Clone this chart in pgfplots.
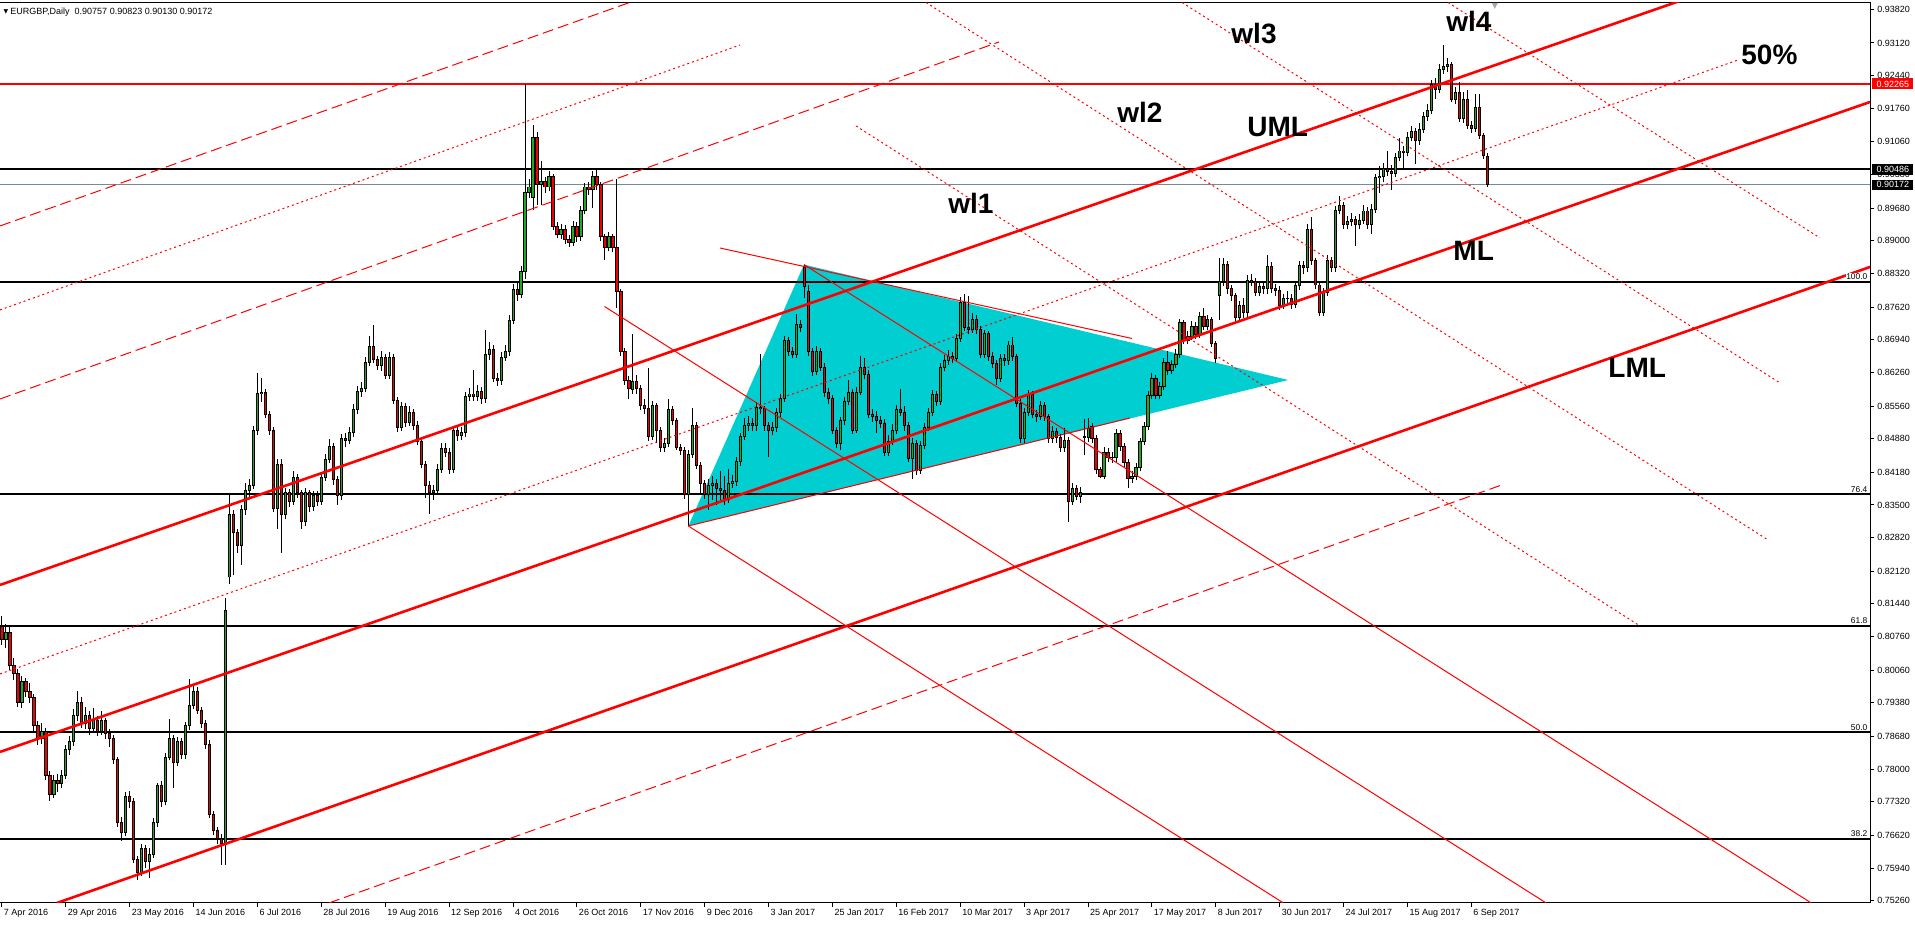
\documentclass[border=0pt]{standalone}
\usepackage{fontspec}
\setmainfont{Liberation Sans}
\newfontfamily\dejavu{DejaVu Sans}
\usepackage{pgfplots}
\usepackage{pgfplotstable}
\pgfplotsset{compat=1.18}

\definecolor{bull}{RGB}{30,170,30}
\definecolor{bear}{RGB}{240,0,0}
\definecolor{tri}{RGB}{0,206,209}
\definecolor{bidline}{RGB}{119,136,153}

\newcommand\tickfont{\fontsize{4.5}{5}\selectfont}
\newcommand\fibfont{\fontsize{4.2}{5}\selectfont}
\newcommand\bigfont{\fontsize{14}{16}\selectfont\bfseries}

\tikzset{
  thickred/.style={red, line width=1.3pt},
  thinred/.style={red, line width=0.5pt},
  dashred/.style={red, line width=0.5pt, dash pattern=on 5.5pt off 2.5pt},
  dotred/.style={red, line width=0.5pt, dash pattern=on 1pt off 1.5pt},
  level/.style={black, line width=1pt},
}
\pgfplotsset{candle/.style={draw=none, mark=none, forget plot,
  error bars/.cd, y dir=plus, y explicit, error mark=none}}

% EURGBP daily, bar index from 7 Apr 2016
\pgfplotstableread{
x o h l c
0 0.8097 0.8119 0.8058 0.8070
1 0.8070 0.8102 0.8052 0.8085
2 0.8085 0.8096 0.8006 0.8015
3 0.8015 0.8032 0.7986 0.7999
4 0.7999 0.8008 0.7930 0.7939
5 0.7939 0.7994 0.7928 0.7982
6 0.7982 0.7990 0.7950 0.7961
7 0.7961 0.7979 0.7938 0.7950
8 0.7950 0.7957 0.7880 0.7890
9 0.7890 0.7901 0.7850 0.7863
10 0.7863 0.7895 0.7852 0.7879
11 0.7879 0.7886 0.7778 0.7786
12 0.7786 0.7795 0.7734 0.7748
13 0.7748 0.7788 0.7740 0.7776
14 0.7776 0.7790 0.7752 0.7770
15 0.7770 0.7799 0.7760 0.7786
16 0.7786 0.7850 0.7779 0.7841
17 0.7841 0.7869 0.7830 0.7857
18 0.7857 0.7925 0.7848 0.7912
19 0.7912 0.7963 0.7901 0.7939
20 0.7939 0.7950 0.7885 0.7895
21 0.7895 0.7930 0.7884 0.7912
22 0.7912 0.7921 0.7870 0.7884
23 0.7884 0.7928 0.7876 0.7901
24 0.7901 0.7910 0.7868 0.7879
25 0.7879 0.7922 0.7871 0.7901
26 0.7901 0.7906 0.7862 0.7874
27 0.7874 0.7884 0.7845 0.7863
28 0.7863 0.7870 0.7810 0.7819
29 0.7819 0.7826 0.7680 0.7688
30 0.7688 0.7700 0.7650 0.7667
31 0.7667 0.7752 0.7660 0.7743
32 0.7743 0.7755 0.7718 0.7732
33 0.7732 0.7740 0.7605 0.7612
34 0.7612 0.7620 0.7569 0.7585
35 0.7585 0.7645 0.7578 0.7634
36 0.7634 0.7642 0.7595 0.7607
37 0.7607 0.7636 0.7574 0.7623
38 0.7623 0.7698 0.7615 0.7688
39 0.7688 0.7772 0.7680 0.7765
40 0.7765 0.7775 0.7722 0.7732
41 0.7732 0.7834 0.7725 0.7825
42 0.7825 0.7905 0.7818 0.7863
43 0.7863 0.7870 0.7760 0.7814
44 0.7814 0.7866 0.7806 0.7857
45 0.7857 0.7865 0.7820 0.7830
46 0.7830 0.7899 0.7822 0.7890
47 0.7890 0.7988 0.7882 0.7933
48 0.7933 0.7975 0.7925 0.7961
49 0.7961 0.7970 0.7915 0.7923
50 0.7923 0.7930 0.7885 0.7895
51 0.7895 0.7902 0.7842 0.7852
52 0.7852 0.7860 0.7698 0.7705
53 0.7705 0.7712 0.7662 0.7672
54 0.7672 0.7680 0.7645 0.7656
55 0.7656 0.7665 0.7600 0.7645
56 0.7645 0.8157 0.7600 0.8130
57 0.8200 0.8375 0.8185 0.8330
58 0.8330 0.8340 0.8205 0.8292
59 0.8292 0.8300 0.8250 0.8265
60 0.8265 0.8350 0.8225 0.8341
61 0.8341 0.8395 0.8330 0.8380
62 0.8380 0.8405 0.8366 0.8391
63 0.8391 0.8514 0.8383 0.8505
64 0.8505 0.8625 0.8496 0.8582
65 0.8582 0.8614 0.8565 0.8585
66 0.8585 0.8592 0.8530 0.8538
67 0.8538 0.8545 0.8496 0.8505
68 0.8505 0.8512 0.8335 0.8342
69 0.8342 0.8446 0.8300 0.8435
70 0.8435 0.8445 0.8250 0.8331
71 0.8331 0.8386 0.8320 0.8375
72 0.8375 0.8384 0.8345 0.8358
73 0.8358 0.8420 0.8350 0.8407
74 0.8407 0.8415 0.8365 0.8375
75 0.8375 0.8382 0.8300 0.8315
76 0.8315 0.8386 0.8306 0.8375
77 0.8375 0.8382 0.8336 0.8347
78 0.8347 0.8380 0.8338 0.8369
79 0.8369 0.8378 0.8348 0.8358
80 0.8358 0.8416 0.8350 0.8407
81 0.8407 0.8457 0.8400 0.8445
82 0.8445 0.8488 0.8438 0.8472
83 0.8472 0.8480 0.8392 0.8402
84 0.8402 0.8410 0.8350 0.8369
85 0.8369 0.8498 0.8360 0.8489
86 0.8489 0.8499 0.8470 0.8484
87 0.8484 0.8512 0.8476 0.8500
88 0.8500 0.8560 0.8492 0.8549
89 0.8549 0.8598 0.8540 0.8587
90 0.8587 0.8606 0.8575 0.8592
91 0.8592 0.8658 0.8585 0.8647
92 0.8647 0.8701 0.8640 0.8680
93 0.8680 0.8725 0.8645 0.8652
94 0.8652 0.8660 0.8630 0.8641
95 0.8641 0.8670 0.8628 0.8658
96 0.8658 0.8665 0.8612 0.8620
97 0.8620 0.8668 0.8612 0.8658
98 0.8658 0.8665 0.8560 0.8568
99 0.8568 0.8575 0.8502 0.8511
100 0.8511 0.8565 0.8503 0.8554
101 0.8554 0.8562 0.8512 0.8522
102 0.8522 0.8555 0.8514 0.8543
103 0.8543 0.8550 0.8506 0.8516
104 0.8516 0.8524 0.8474 0.8483
105 0.8483 0.8490 0.8426 0.8435
106 0.8435 0.8442 0.8364 0.8391
107 0.8391 0.8400 0.8331 0.8375
108 0.8375 0.8392 0.8360 0.8380
109 0.8380 0.8435 0.8372 0.8424
110 0.8424 0.8478 0.8416 0.8467
111 0.8467 0.8480 0.8450 0.8460
112 0.8460 0.8468 0.8415 0.8424
113 0.8424 0.8515 0.8416 0.8505
114 0.8505 0.8514 0.8484 0.8494
115 0.8494 0.8512 0.8485 0.8500
116 0.8500 0.8586 0.8492 0.8576
117 0.8576 0.8594 0.8566 0.8581
118 0.8581 0.8630 0.8566 0.8576
119 0.8576 0.8600 0.8566 0.8587
120 0.8587 0.8595 0.8560 0.8571
121 0.8571 0.8714 0.8563 0.8663
122 0.8663 0.8690 0.8652 0.8674
123 0.8674 0.8682 0.8605 0.8614
124 0.8614 0.8625 0.8598 0.8609
125 0.8609 0.8668 0.8600 0.8658
126 0.8658 0.8682 0.8650 0.8669
127 0.8669 0.8745 0.8660 0.8734
128 0.8734 0.8810 0.8726 0.8799
129 0.8799 0.8812 0.8775 0.8788
130 0.8788 0.8848 0.8780 0.8837
131 0.8837 0.9227 0.8820 0.9001
132 0.9001 0.9028 0.8990 0.9012
133 0.8990 0.9142 0.8965 0.9115
134 0.9115 0.9126 0.8974 0.9017
135 0.9017 0.9066 0.8974 0.9023
136 0.9023 0.9032 0.9000 0.9012
137 0.9012 0.9046 0.9003 0.9034
138 0.9034 0.9040 0.8922 0.8930
139 0.8930 0.8940 0.8905 0.8914
140 0.8914 0.8935 0.8904 0.8924
141 0.8924 0.8932 0.8894 0.8903
142 0.8903 0.8912 0.8887 0.8897
143 0.8897 0.8941 0.8890 0.8930
144 0.8930 0.8940 0.8898 0.8908
145 0.8908 0.8972 0.8900 0.8963
146 0.8963 0.9020 0.8955 0.9012
147 0.9012 0.9022 0.8995 0.9006
148 0.9006 0.9045 0.8968 0.9034
149 0.9034 0.9050 0.9006 0.9017
150 0.9017 0.9023 0.8900 0.8908
151 0.8908 0.8915 0.8859 0.8886
152 0.8886 0.8918 0.8878 0.8908
153 0.8908 0.8915 0.8876 0.8886
154 0.8886 0.9028 0.8761 0.8794
155 0.8794 0.8800 0.8660 0.8669
156 0.8669 0.8676 0.8600 0.8609
157 0.8609 0.8618 0.8570 0.8593
158 0.8590 0.8706 0.8580 0.8608
159 0.8608 0.8620 0.8582 0.8592
160 0.8592 0.8600 0.8548 0.8557
161 0.8557 0.8571 0.8540 0.8550
162 0.8550 0.8636 0.8484 0.8492
163 0.8492 0.8566 0.8485 0.8557
164 0.8557 0.8563 0.8478 0.8506
165 0.8506 0.8512 0.8460 0.8469
166 0.8469 0.8490 0.8460 0.8478
167 0.8478 0.8571 0.8470 0.8548
168 0.8548 0.8556 0.8516 0.8525
169 0.8525 0.8532 0.8464 0.8469
170 0.8469 0.8476 0.8455 0.8464
171 0.8464 0.8470 0.8362 0.8371
172 0.8371 0.8465 0.8306 0.8455
173 0.8455 0.8552 0.8448 0.8515
174 0.8515 0.8522 0.8424 0.8432
175 0.8432 0.8440 0.8371 0.8395
176 0.8395 0.8402 0.8362 0.8371
177 0.8371 0.8405 0.8340 0.8390
178 0.8390 0.8410 0.8360 0.8395
179 0.8395 0.8405 0.8350 0.8385
180 0.8385 0.8420 0.8356 0.8381
181 0.8381 0.8410 0.8350 0.8362
182 0.8362 0.8425 0.8355 0.8395
183 0.8395 0.8412 0.8385 0.8399
184 0.8399 0.8450 0.8390 0.8441
185 0.8441 0.8500 0.8432 0.8492
186 0.8492 0.8530 0.8485 0.8515
187 0.8515 0.8535 0.8505 0.8520
188 0.8520 0.8530 0.8503 0.8515
189 0.8515 0.8565 0.8505 0.8553
190 0.8553 0.8664 0.8540 0.8550
191 0.8550 0.8556 0.8505 0.8515
192 0.8515 0.8522 0.8450 0.8506
193 0.8506 0.8522 0.8495 0.8511
194 0.8511 0.8552 0.8502 0.8543
195 0.8543 0.8580 0.8533 0.8571
196 0.8571 0.8702 0.8565 0.8692
197 0.8692 0.8700 0.8660 0.8669
198 0.8669 0.8678 0.8655 0.8664
199 0.8664 0.8748 0.8656 0.8725
200 0.8725 0.8735 0.8710 0.8720
201 0.8845 0.8850 0.8780 0.8804
202 0.8794 0.8808 0.8660 0.8669
203 0.8669 0.8676 0.8618 0.8627
204 0.8627 0.8680 0.8620 0.8669
205 0.8669 0.8676 0.8628 0.8636
206 0.8636 0.8645 0.8575 0.8585
207 0.8585 0.8594 0.8560 0.8571
208 0.8571 0.8578 0.8498 0.8506
209 0.8506 0.8512 0.8468 0.8478
210 0.8478 0.8534 0.8464 0.8525
211 0.8525 0.8575 0.8516 0.8566
212 0.8566 0.8610 0.8558 0.8585
213 0.8585 0.8592 0.8498 0.8506
214 0.8506 0.8595 0.8500 0.8585
215 0.8585 0.8660 0.8578 0.8636
216 0.8636 0.8655 0.8612 0.8622
217 0.8622 0.8630 0.8530 0.8539
218 0.8539 0.8550 0.8522 0.8534
219 0.8534 0.8545 0.8500 0.8525
220 0.8525 0.8535 0.8510 0.8520
221 0.8520 0.8528 0.8452 0.8460
222 0.8460 0.8495 0.8452 0.8483
223 0.8483 0.8518 0.8475 0.8506
224 0.8506 0.8558 0.8498 0.8548
225 0.8548 0.8592 0.8535 0.8543
226 0.8543 0.8555 0.8505 0.8515
227 0.8515 0.8522 0.8440 0.8446
228 0.8446 0.8490 0.8404 0.8478
229 0.8478 0.8485 0.8412 0.8422
230 0.8422 0.8484 0.8415 0.8474
231 0.8474 0.8520 0.8466 0.8511
232 0.8511 0.8552 0.8504 0.8543
233 0.8543 0.8590 0.8535 0.8580
234 0.8580 0.8588 0.8556 0.8566
235 0.8566 0.8645 0.8558 0.8636
236 0.8636 0.8662 0.8628 0.8650
237 0.8650 0.8672 0.8642 0.8659
238 0.8659 0.8668 0.8645 0.8655
239 0.8655 0.8706 0.8648 0.8697
240 0.8697 0.8782 0.8690 0.8771
241 0.8771 0.8790 0.8712 0.8720
242 0.8720 0.8785 0.8705 0.8716
243 0.8716 0.8750 0.8708 0.8737
244 0.8737 0.8745 0.8706 0.8715
245 0.8715 0.8722 0.8655 0.8664
246 0.8664 0.8715 0.8656 0.8706
247 0.8706 0.8712 0.8650 0.8659
248 0.8659 0.8668 0.8635 0.8645
249 0.8645 0.8652 0.8600 0.8613
250 0.8613 0.8664 0.8605 0.8655
251 0.8655 0.8665 0.8640 0.8650
252 0.8650 0.8692 0.8642 0.8683
253 0.8683 0.8700 0.8650 0.8659
254 0.8659 0.8665 0.8553 0.8562
255 0.8562 0.8570 0.8478 0.8488
256 0.8488 0.8552 0.8480 0.8543
257 0.8543 0.8590 0.8535 0.8580
258 0.8580 0.8588 0.8530 0.8539
259 0.8539 0.8548 0.8522 0.8534
260 0.8534 0.8567 0.8526 0.8557
261 0.8557 0.8565 0.8525 0.8534
262 0.8534 0.8540 0.8480 0.8489
263 0.8489 0.8515 0.8480 0.8503
264 0.8503 0.8510 0.8478 0.8490
265 0.8490 0.8497 0.8460 0.8469
266 0.8469 0.8510 0.8460 0.8485
267 0.8485 0.8492 0.8315 0.8357
268 0.8357 0.8396 0.8350 0.8385
269 0.8385 0.8392 0.8360 0.8367
270 0.8367 0.8388 0.8355 0.8375
271 0.8492 0.8528 0.8453 0.8490
272 0.8490 0.8532 0.8482 0.8510
273 0.8514 0.8520 0.8480 0.8489
274 0.8489 0.8495 0.8415 0.8424
275 0.8424 0.8430 0.8406 0.8410
276 0.8410 0.8470 0.8404 0.8460
277 0.8460 0.8468 0.8440 0.8449
278 0.8449 0.8460 0.8438 0.8448
279 0.8448 0.8508 0.8440 0.8499
280 0.8499 0.8506 0.8462 0.8471
281 0.8471 0.8480 0.8430 0.8439
282 0.8439 0.8445 0.8385 0.8406
283 0.8406 0.8420 0.8396 0.8410
284 0.8410 0.8438 0.8402 0.8428
285 0.8428 0.8490 0.8420 0.8482
286 0.8482 0.8522 0.8475 0.8514
287 0.8514 0.8587 0.8506 0.8578
288 0.8578 0.8624 0.8570 0.8614
289 0.8614 0.8620 0.8570 0.8578
290 0.8578 0.8606 0.8570 0.8596
291 0.8596 0.8655 0.8590 0.8646
292 0.8646 0.8671 0.8620 0.8629
293 0.8629 0.8652 0.8622 0.8643
294 0.8643 0.8674 0.8636 0.8664
295 0.8664 0.8738 0.8656 0.8729
296 0.8729 0.8736 0.8685 0.8693
297 0.8693 0.8712 0.8685 0.8700
298 0.8700 0.8734 0.8693 0.8722
299 0.8722 0.8730 0.8695 0.8704
300 0.8704 0.8752 0.8697 0.8743
301 0.8743 0.8760 0.8714 0.8722
302 0.8722 0.8746 0.8715 0.8736
303 0.8736 0.8742 0.8678 0.8686
304 0.8686 0.8692 0.8645 0.8654
305 0.8786 0.8865 0.8736 0.8815
306 0.8815 0.8865 0.8806 0.8851
307 0.8851 0.8858 0.8790 0.8800
308 0.8800 0.8808 0.8775 0.8786
309 0.8786 0.8792 0.8730 0.8740
310 0.8740 0.8775 0.8730 0.8765
311 0.8765 0.8780 0.8740 0.8750
312 0.8750 0.8828 0.8742 0.8818
313 0.8818 0.8830 0.8805 0.8815
314 0.8815 0.8822 0.8785 0.8793
315 0.8793 0.8815 0.8785 0.8804
316 0.8804 0.8812 0.8790 0.8800
317 0.8800 0.8870 0.8790 0.8847
318 0.8847 0.8855 0.8792 0.8800
319 0.8800 0.8810 0.8785 0.8797
320 0.8797 0.8805 0.8756 0.8765
321 0.8765 0.8790 0.8758 0.8779
322 0.8779 0.8795 0.8768 0.8780
323 0.8780 0.8790 0.8758 0.8768
324 0.8768 0.8815 0.8760 0.8806
325 0.8806 0.8858 0.8798 0.8849
326 0.8849 0.8858 0.8830 0.8844
327 0.8844 0.8935 0.8836 0.8924
328 0.8924 0.8950 0.8850 0.8858
329 0.8858 0.8865 0.8800 0.8808
330 0.8808 0.8815 0.8743 0.8750
331 0.8750 0.8802 0.8743 0.8793
332 0.8793 0.8870 0.8785 0.8859
333 0.8859 0.8866 0.8836 0.8844
334 0.8844 0.8972 0.8836 0.8963
335 0.8963 0.8994 0.8955 0.8973
336 0.8973 0.8980 0.8925 0.8933
337 0.8933 0.8952 0.8924 0.8940
338 0.8940 0.8958 0.8930 0.8945
339 0.8945 0.8952 0.8890 0.8933
340 0.8933 0.8955 0.8925 0.8943
341 0.8943 0.8975 0.8935 0.8962
342 0.8962 0.8970 0.8925 0.8933
343 0.8933 0.8976 0.8915 0.8966
344 0.8966 0.9040 0.8958 0.9031
345 0.9031 0.9055 0.9000 0.9034
346 0.9034 0.9062 0.9022 0.9050
347 0.9050 0.9086 0.9035 0.9044
348 0.9044 0.9058 0.9005 0.9041
349 0.9041 0.9082 0.9032 0.9073
350 0.9073 0.9115 0.9066 0.9087
351 0.9087 0.9098 0.9048 0.9084
352 0.9084 0.9126 0.9076 0.9116
353 0.9116 0.9140 0.9108 0.9127
354 0.9127 0.9135 0.9060 0.9109
355 0.9109 0.9145 0.9100 0.9132
356 0.9132 0.9168 0.9124 0.9159
357 0.9159 0.9185 0.9150 0.9172
358 0.9172 0.9235 0.9165 0.9225
359 0.9225 0.9238 0.9195 0.9216
360 0.9216 0.9268 0.9208 0.9257
361 0.9257 0.9307 0.9248 0.9263
362 0.9263 0.9281 0.9252 0.9267
363 0.9267 0.9272 0.9188 0.9195
364 0.9195 0.9220 0.9185 0.9209
365 0.9209 0.9230 0.9148 0.9155
366 0.9155 0.9210 0.9145 0.9195
367 0.9195 0.9213 0.9132 0.9141
368 0.9141 0.9150 0.9124 0.9134
369 0.9134 0.9205 0.9126 0.9177
370 0.9177 0.9205 0.9112 0.9120
371 0.9120 0.9125 0.9070 0.9077
372 0.90757 0.90823 0.90130 0.90172
}\candles

\begin{document}
\begin{tikzpicture}
\begin{axis}[
  at={(0pt,0pt)}, anchor=south west,
  scale only axis, width=935pt, height=450.25pt,
  xmin=-0.5, xmax=467.82, ymin=0.75212, ymax=0.93962,
  axis x line*=bottom, axis y line*=right,
  axis line style={black, line width=0.5pt},
  tick align=outside, major tick length=2pt,
  tick style={black, line width=0.5pt},
  xtick={0,16,...,368},
  xticklabels={7 Apr 2016,29 Apr 2016,23 May 2016,14 Jun 2016,6 Jul 2016,28 Jul 2016,19 Aug 2016,12 Sep 2016,4 Oct 2016,26 Oct 2016,17 Nov 2016,9 Dec 2016,3 Jan 2017,25 Jan 2017,16 Feb 2017,10 Mar 2017,3 Apr 2017,25 Apr 2017,17 May 2017,8 Jun 2017,30 Jun 2017,24 Jul 2017,15 Aug 2017,6 Sep 2017},
  xticklabel style={font=\tickfont, anchor=north west, inner sep=0pt, xshift=0.8pt, yshift=-1pt},
  ytick={0.7526,0.7594,0.7662,0.7732,0.7800,0.7868,0.7938,0.8006,0.8076,0.8144,0.8212,0.8282,0.8350,0.8418,0.8488,0.8556,0.8626,0.8694,0.8762,0.8832,0.8900,0.8968,0.9038,0.9106,0.9176,0.9244,0.9312,0.9382},
  scaled y ticks=false,
  yticklabel style={font=\tickfont, anchor=west, inner sep=0pt, xshift=1.5pt,
    /pgf/number format/.cd, fixed, fixed zerofill, precision=5, assume math mode=true},
]
% top frame line
\draw[black, line width=0.5pt] (rel axis cs:0,1) -- (rel axis cs:1,1);

% triangle
\addplot[fill=tri, draw=none, forget plot] coordinates {(171.88,0.83062) (200.85,0.88505) (322.13,0.86102) (171.88,0.83062)};

% horizontal levels
\addplot[level] coordinates {(-1,0.88149) (470,0.88149)};
\addplot[level] coordinates {(-1,0.83720) (470,0.83720)};
\addplot[level] coordinates {(-1,0.80981) (470,0.80981)};
\addplot[level] coordinates {(-1,0.78766) (470,0.78766)};
\addplot[level] coordinates {(-1,0.76552) (470,0.76552)};
\addplot[red, line width=1pt] coordinates {(-1,0.92265) (470,0.92265)};
\addplot[black, line width=1pt] coordinates {(-1,0.90486) (470,0.90486)};
\addplot[bidline, line width=0.5pt] coordinates {(-1,0.90172) (470,0.90172)};

% candles: wicks, body outline, bull fill, bear fill
\addplot[candle, error bar style={draw=black, line width=0.5pt}]
  table[x=x, y=l, y error plus expr={\thisrow{h}-\thisrow{l}}] {\candles};
\addplot[candle, error bar style={draw=black, line width=1.6pt}]
  table[x=x, y expr={min(\thisrow{o},\thisrow{c})-0.0001}, y error plus expr={abs(\thisrow{c}-\thisrow{o})+0.0002}] {\candles};
\addplot[candle, error bar style={draw=bull, line width=0.6pt}]
  table[x=x, y expr={\thisrow{o}+0.0001}, y error plus expr={max(\thisrow{c}-\thisrow{o}-0.0002,0)}] {\candles};
\addplot[candle, error bar style={draw=bear, line width=0.6pt}]
  table[x=x, y expr={\thisrow{c}+0.0001}, y error plus expr={max(\thisrow{o}-\thisrow{c}-0.0002,0)}] {\candles};

% pitchfork median lines
\addplot[thickred] coordinates {(-0.5,0.81834) (467.82,0.95372)};
\addplot[thickred] coordinates {(-0.5,0.78357) (467.82,0.91890)};
\addplot[thickred] coordinates {(13.77,0.75213) (467.82,0.88455)};
% parallel dashed / dotted lines
\addplot[dashred] coordinates {(-0.5,0.89309) (174.81,0.94482)};
\addplot[dotred] coordinates {(-0.5,0.87560) (184.82,0.93077)};
\addplot[dashred] coordinates {(-0.5,0.85706) (249.69,0.93140)};
\addplot[dotred] coordinates {(-0.5,0.79981) (434.76,0.92765)};
\addplot[dashred] coordinates {(81.89,0.75213) (375.91,0.83926)};
% descending thin lines
\addplot[thinred] coordinates {(179.81,0.88850) (282.99,0.86966)};
\addplot[thinred] coordinates {(150.89,0.87632) (386.7,0.75213)};
\addplot[thinred] coordinates {(171.88,0.83062) (320.9,0.75213)};
\addplot[thinred] coordinates {(200.85,0.88505) (453.1,0.75213)};
\addplot[thinred] coordinates {(171.88,0.83062) (282.49,0.85311)};
% warning lines
\addplot[dotred] coordinates {(213.87,0.91391) (410.22,0.80980)};
\addplot[dotred] coordinates {(231.40,0.93962) (442.27,0.82771)};
\addplot[dotred] coordinates {(295.52,0.93962) (445.28,0.86040)};
\addplot[dotred] coordinates {(362.13,0.93962) (455.30,0.89059)};

% fibo labels
\node[anchor=south east, font=\fibfont, inner sep=0.3pt, fill=white, yshift=0.5pt] at (axis cs:467.4,0.88149) {100.0};
\node[anchor=south east, font=\fibfont, inner sep=0.3pt, yshift=0.5pt] at (axis cs:467.4,0.83720) {76.4};
\node[anchor=south east, font=\fibfont, inner sep=0.3pt, yshift=0.5pt] at (axis cs:467.4,0.80981) {61.8};
\node[anchor=south east, font=\fibfont, inner sep=0.3pt, yshift=0.5pt] at (axis cs:467.4,0.78766) {50.0};
\node[anchor=south east, font=\fibfont, inner sep=0.3pt, yshift=0.5pt] at (axis cs:467.4,0.76552) {38.2};

% big labels
\node[anchor=base west, font=\bigfont, inner sep=0pt] at (axis cs:236.9,0.89558) {wl1};
\node[anchor=base west, font=\bigfont, inner sep=0pt] at (axis cs:279.2,0.91453) {wl2};
\node[anchor=base west, font=\bigfont, inner sep=0pt] at (axis cs:307.8,0.93098) {wl3};
\node[anchor=base west, font=\bigfont, inner sep=0pt] at (axis cs:361.6,0.93348) {wl4};
\node[anchor=base west, font=\bigfont, inner sep=0pt] at (axis cs:311.8,0.91162) {UML};
\node[anchor=base west, font=\bigfont, inner sep=0pt] at (axis cs:363.4,0.88580) {ML};
\node[anchor=base west, font=\bigfont, inner sep=0pt] at (axis cs:402.2,0.86164) {LML};
\node[anchor=base west, font=\bigfont, inner sep=0pt] at (axis cs:435.5,0.92661) {50\%};

% header
\node[anchor=base west, inner sep=0pt, font=\dejavu\fontsize{3}{3}\selectfont] at (axis cs:0.3,0.93735) {▼};
\node[anchor=base west, font=\tickfont, inner sep=0pt] at (axis cs:2.0,0.93702) {EURGBP,Daily\ \ 0.90757 0.90823 0.90130 0.90172};
\node[anchor=north, inner sep=0pt, text=gray!70, font=\dejavu\fontsize{4}{4}\selectfont] at (axis cs:373.9,0.93962) {▼};

\coordinate (pR) at (axis cs:467.82,0.92265);
\coordinate (pK) at (axis cs:467.82,0.90486);
\coordinate (pB) at (axis cs:467.82,0.90172);
\end{axis}
% price boxes on the scale
\node[fill=red, text=white, font=\tickfont, inner sep=0pt, minimum width=20.5pt, minimum height=5.5pt, anchor=west] at ([xshift=1pt]pR) {0.92265};
\node[fill=black, text=white, font=\tickfont, inner sep=0pt, minimum width=20.5pt, minimum height=5.5pt, anchor=west] at ([xshift=1pt]pK) {0.90486};
\node[fill=black, text=white, font=\tickfont, inner sep=0pt, minimum width=20.5pt, minimum height=5pt, anchor=west] at ([xshift=1pt]pB) {0.90172};
\pgfresetboundingbox
\path[use as bounding box] (0pt,-11pt) rectangle (957.5pt,451.5pt);
\end{tikzpicture}
\end{document}
